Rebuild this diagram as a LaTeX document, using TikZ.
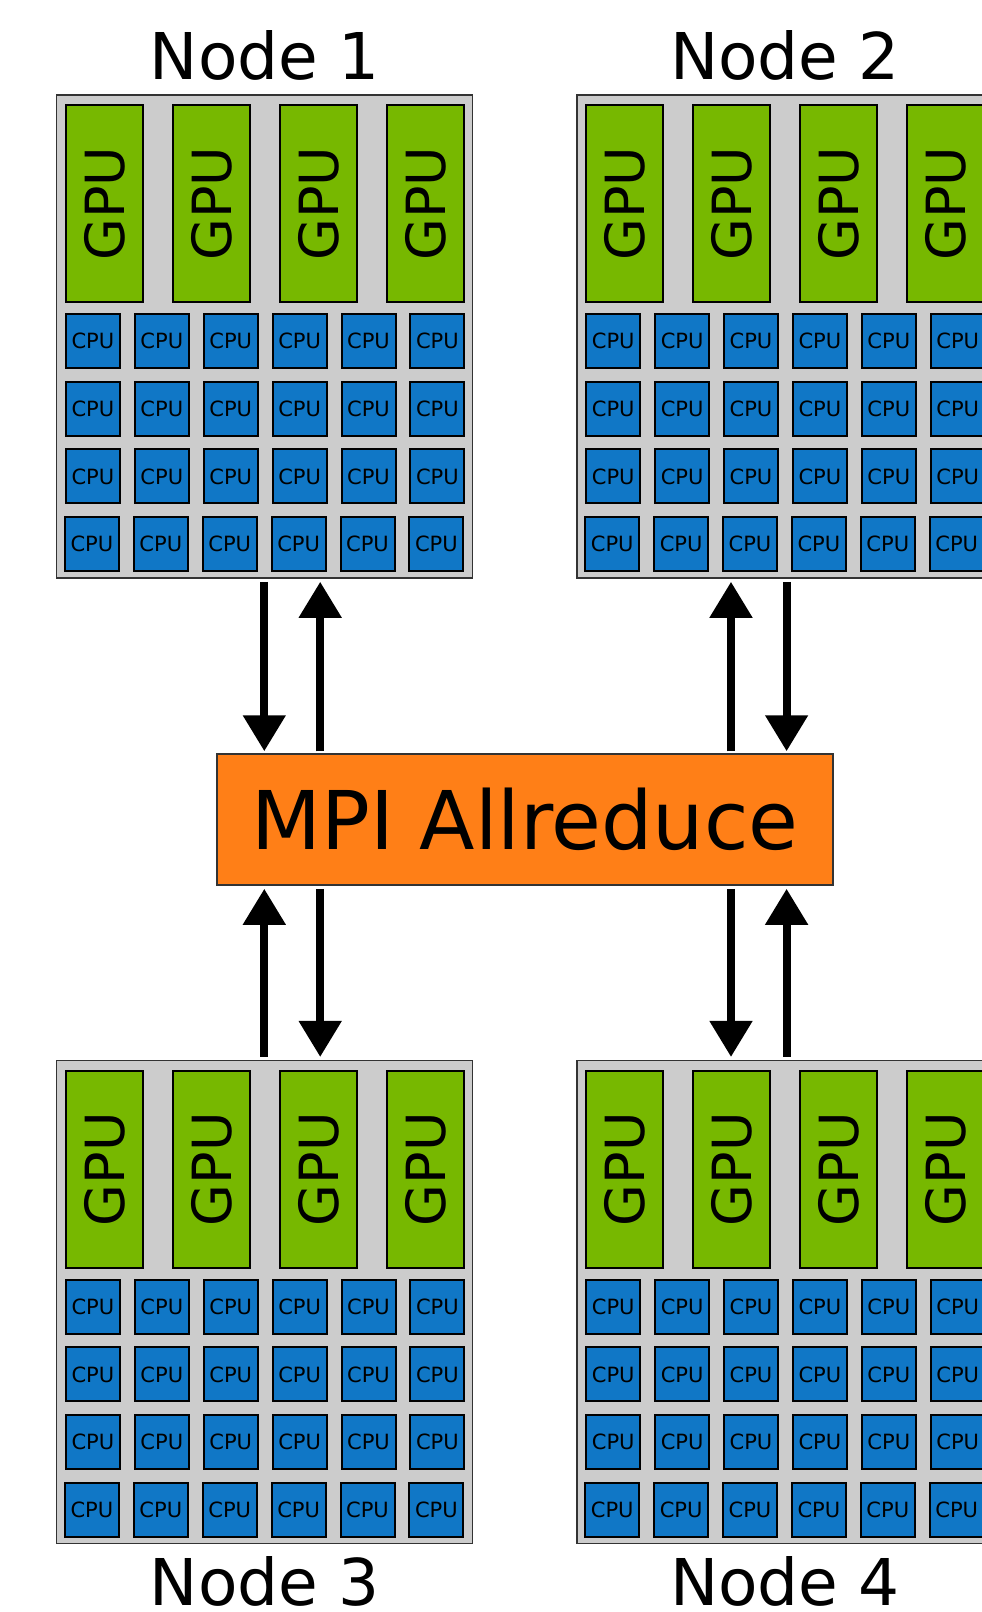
\documentclass[tikz,border=0pt]{standalone}
\usepackage{fontspec}
\setmainfont{DejaVu Sans}
\usetikzlibrary{arrows.meta,calc}
\definecolor{boxgray}{HTML}{CCCCCC}
\definecolor{gpugreen}{HTML}{77B800}
\definecolor{cpublue}{HTML}{1077C6}
\definecolor{mpiorange}{HTML}{FF7F17}
\begin{document}
\begin{tikzpicture}[x=1pt,y=-1pt,
  nodebox/.style={draw=black!80, line width=1.5pt, fill=boxgray,
    minimum width=416pt, minimum height=483pt, inner sep=0pt},
  gpubox/.style={draw=black, line width=2pt, fill=gpugreen, rotate=90,
    minimum width=197pt, minimum height=77pt, inner sep=0pt,
    font=\fontsize{54}{60}\selectfont},
  cpubox/.style={draw=black, line width=2pt, fill=cpublue,
    minimum width=54pt, minimum height=54pt, inner sep=0pt,
    font=\fontsize{21}{24}\selectfont},
  mpibox/.style={draw=black!80, line width=1.5pt, fill=mpiorange,
    minimum width=616pt, minimum height=131pt, inner sep=0pt,
    font=\fontsize{81}{90}\selectfont},
  lbl/.style={font=\fontsize{64.5}{70}\selectfont, inner sep=0pt, anchor=base},
  arr/.style={line width=8pt, -{Triangle[width=41pt,length=36pt]}}
]
\useasboundingbox (0,0) rectangle (982,1612);
\clip (0,0) rectangle (982,1612);
\foreach \k/\ox/\oy in {1/0/0, 2/520.3/0, 3/0/965.7, 4/520.3/965.7} {
  \node[nodebox] (n\k) at (\ox+264.7, \oy+336.5) {};
  \foreach \i in {0,...,3}
    \node[gpubox] (n\k-g\i) at (\ox+104.5+107*\i, \oy+203.5) {GPU};
  \foreach \r in {0,...,3} {
    \foreach \j in {0,...,5} {
      \pgfmathsetmacro\dx{\r==3 ? -1 : 0}
      \node[cpubox] (n\k-c\r\j) at (\ox+92.9+68.9*\j+\dx, \oy+341+67.7*\r) {CPU};
    }
  }
}
\node[mpibox] (mpi) at (525,819.5) {MPI Allreduce};
\node[lbl] (l1) at (264.7,79) {Node 1};
\node[lbl] (l2) at (785,79) {Node 2};
\node[lbl] (l3) at (264.7,1605) {Node 3};
\node[lbl] (l4) at (785,1605) {Node 4};
% top arrows
\draw[arr] ($(n1.south)+(-0.4,3)$) -- ($(n1.south |- mpi.north)+(-0.4,-2)$);
\draw[arr] ($(n1.south |- mpi.north)+(55.5,-2)$) -- ($(n1.south)+(55.5,3)$);
\draw[arr] ($(n2.south |- mpi.north)+(-54,-2)$) -- ($(n2.south)+(-54,3)$);
\draw[arr] ($(n2.south)+(1.6,3)$) -- ($(n2.south |- mpi.north)+(1.6,-2)$);
% bottom arrows
\draw[arr] ($(n3.north)+(-0.4,-3)$) -- ($(n3.north |- mpi.south)+(-0.4,3)$);
\draw[arr] ($(n3.north |- mpi.south)+(55.5,3)$) -- ($(n3.north)+(55.5,-3)$);
\draw[arr] ($(n4.north |- mpi.south)+(-54,3)$) -- ($(n4.north)+(-54,-3)$);
\draw[arr] ($(n4.north)+(1.6,-3)$) -- ($(n4.north |- mpi.south)+(1.6,3)$);
\end{tikzpicture}
\end{document}
